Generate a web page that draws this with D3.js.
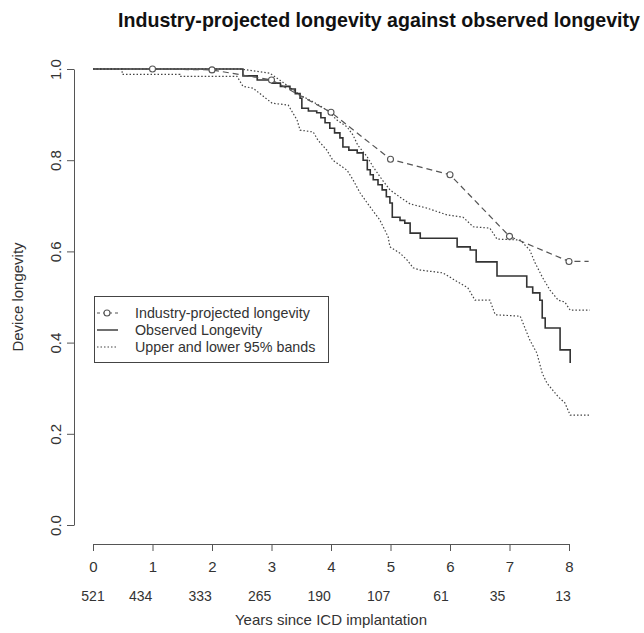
<!DOCTYPE html>
<html>
<head>
<meta charset="utf-8">
<script src="https://cdn.jsdelivr.net/npm/d3@7"></script>
<style>
  html, body { margin: 0; padding: 0; background: #fff; }
  svg { display: block; font-family: "Liberation Sans", Arial, Helvetica, sans-serif; }
</style>
</head>
<body>
<svg id="chart" width="644" height="633"></svg>
<script>
// ---------- data ----------
const years = [0, 1, 2, 3, 4, 5, 6, 7, 8];
const atRisk = [521, 434, 333, 265, 190, 107, 61, 35, 13];
const atRiskPos = [0, 0.8, 1.8, 2.8, 3.8, 4.8, 5.85, 6.8, 7.9];
const yTicks = [0, 0.2, 0.4, 0.6, 0.8, 1.0];

// industry-projected longevity (dashed, markers at whole years 1-8)
const industryT = [0, 1, 2, 3, 4, 5, 6, 7, 8, 8.33];
const industryV = [1.0, 1.0, 0.998, 0.976, 0.905, 0.802, 0.768, 0.633, 0.578, 0.578];
const markerYears = [1, 2, 3, 4, 5, 6, 7, 8];

// observed (Kaplan-Meier step function): step time, survival after step
const obsT = [0, 2.52, 2.76, 3.01, 3.15, 3.31, 3.40, 3.48, 3.51, 3.62,
              3.76, 3.83, 3.90, 3.98, 4.06, 4.15, 4.20, 4.30, 4.44, 4.54,
              4.61, 4.66, 4.71, 4.79, 4.86, 4.93, 4.99, 5.03, 5.16, 5.24,
              5.33, 5.50, 6.12, 6.34, 6.44, 6.79, 7.29, 7.39, 7.51, 7.55,
              7.60, 7.85, 8.02];
const obsV = [1.0, 0.985, 0.976, 0.969, 0.962, 0.956, 0.946, 0.936, 0.914, 0.908,
              0.904, 0.893, 0.882, 0.870, 0.860, 0.849, 0.829, 0.822, 0.816, 0.800,
              0.779, 0.768, 0.757, 0.746, 0.735, 0.720, 0.706, 0.675, 0.668, 0.662,
              0.640, 0.629, 0.610, 0.603, 0.577, 0.546, 0.522, 0.509, 0.493, 0.454,
              0.432, 0.384, 0.355];

// upper 95% band
const upperT = [0, 2.47, 2.97, 3.19, 3.48, 3.70, 3.93, 4.10, 4.27, 4.37, 4.45, 4.61,
                4.71, 4.86, 4.99, 5.16, 5.33, 5.61, 5.95, 6.22, 6.39, 6.67, 6.79,
                7.18, 7.34, 7.43, 7.55, 7.68, 7.82, 7.93, 8.02, 8.35];
const upperV = [1.0, 1.0, 0.991, 0.971, 0.943, 0.928, 0.910, 0.888, 0.873, 0.855, 0.833, 0.807,
                0.785, 0.757, 0.735, 0.719, 0.704, 0.695, 0.680, 0.675, 0.654, 0.651, 0.627,
                0.625, 0.603, 0.575, 0.544, 0.515, 0.493, 0.489, 0.471, 0.471];

// lower 95% band
const lowerT = [0, 0.49, 0.49, 1.46, 1.46, 2.42, 2.52, 2.69, 3.01, 3.28, 3.43, 3.48, 3.70,
                3.78, 3.93, 4.03, 4.27, 4.37, 4.49, 4.66, 4.82, 4.96, 4.99, 5.16, 5.28,
                5.38, 5.50, 5.88, 6.08, 6.30, 6.42, 6.67, 6.76, 7.18, 7.34, 7.46, 7.55,
                7.63, 7.82, 7.93, 8.02, 8.35];
const lowerV = [1.0, 1.0, 0.988, 0.988, 0.984, 0.984, 0.962, 0.958, 0.925, 0.921, 0.888, 0.866, 0.862,
                0.844, 0.822, 0.800, 0.778, 0.757, 0.728, 0.697, 0.669, 0.632, 0.610, 0.596, 0.581,
                0.564, 0.559, 0.553, 0.537, 0.520, 0.493, 0.493, 0.461, 0.458, 0.406, 0.377, 0.333,
                0.311, 0.281, 0.268, 0.241, 0.241];

const legendLabels = ["Industry-projected longevity", "Observed Longevity", "Upper and lower 95% bands"];

// ---------- layout ----------
const svg = d3.select("#chart");
const x = d3.scaleLinear().domain([0, 8]).range([93, 569]);
const y = d3.scaleLinear().domain([0, 1]).range([525, 69]);
const axisY = 544, axisX = 74;
const ink = "#333";
const fontSize = 15;

const zip = (a, b) => a.map((d, i) => [d, b[i]]);
const line = d3.line().x(d => x(d[0])).y(d => y(d[1]));
const stepLine = d3.line().x(d => x(d[0])).y(d => y(d[1])).curve(d3.curveStepAfter);

// title
const title = svg.append("text")
  .attr("x", 118).attr("y", 27)
  .attr("font-weight", "bold").attr("font-size", 17)
  .attr("fill", "#111")
  .text("Industry-projected longevity against observed longevity");
const tl = title.node().getComputedTextLength();
title.attr("font-size", 17 * 522 / tl);

// x axis
const gx = svg.append("g").attr("transform", `translate(0,${axisY})`)
  .call(d3.axisBottom(x).tickValues(years).tickSize(7).tickSizeOuter(0).tickFormat(d3.format("d")));
gx.select(".domain").attr("stroke", "#555");
gx.selectAll(".tick line").attr("stroke", "#555");
gx.selectAll(".tick text").attr("y", 17).attr("font-size", fontSize).attr("fill", ink)
  .attr("font-family", "Liberation Sans, Arial, sans-serif");

// y axis
const gy = svg.append("g").attr("transform", `translate(${axisX},0)`)
  .call(d3.axisLeft(y).tickValues(yTicks).tickSize(7).tickSizeOuter(0).tickFormat(d3.format(".1f")));
gy.select(".domain").attr("stroke", "#555");
gy.selectAll(".tick line").attr("stroke", "#555");
gy.selectAll(".tick text")
  .attr("x", null).attr("dy", null)
  .attr("text-anchor", "middle")
  .attr("transform", "translate(-13,0) rotate(-90)")
  .attr("font-size", fontSize).attr("fill", ink)
  .attr("font-family", "Liberation Sans, Arial, sans-serif");

// numbers at risk
svg.append("g").selectAll("text").data(atRisk).join("text")
  .attr("x", (d, i) => x(atRiskPos[i]))
  .attr("y", 601)
  .attr("text-anchor", "middle")
  .attr("font-size", 14).attr("fill", ink)
  .text(d => d);

// axis titles
svg.append("text")
  .attr("x", 331).attr("y", 625).attr("text-anchor", "middle")
  .attr("font-size", fontSize).attr("fill", ink)
  .text("Years since ICD implantation");
svg.append("text")
  .attr("transform", `translate(23,297) rotate(-90)`)
  .attr("text-anchor", "middle")
  .attr("font-size", fontSize).attr("fill", ink)
  .text("Device longevity");

// ---------- series ----------
const dotted = "1.5,2";
const dashed = "6,4";

svg.append("path").datum(zip(lowerT, lowerV)).attr("d", line)
  .attr("fill", "none").attr("stroke", "#444").attr("stroke-width", 1.2).attr("stroke-dasharray", dotted);
svg.append("path").datum(zip(upperT, upperV)).attr("d", line)
  .attr("fill", "none").attr("stroke", "#444").attr("stroke-width", 1.2).attr("stroke-dasharray", dotted);
svg.append("path").datum(zip(obsT, obsV)).attr("d", stepLine)
  .attr("fill", "none").attr("stroke", "#333").attr("stroke-width", 1.6);
svg.append("path").datum(zip(industryT, industryV)).attr("d", line)
  .attr("fill", "none").attr("stroke", "#555").attr("stroke-width", 1.2).attr("stroke-dasharray", dashed);
svg.append("g").selectAll("circle")
  .data(zip(industryT, industryV).filter(d => markerYears.includes(d[0])))
  .join("circle")
  .attr("cx", d => x(d[0])).attr("cy", d => y(d[1])).attr("r", 3)
  .attr("fill", "#fff").attr("stroke", "#555").attr("stroke-width", 1.1);

// ---------- legend ----------
const lg = svg.append("g");
lg.append("rect").attr("x", 94.5).attr("y", 296.5).attr("width", 234).attr("height", 66)
  .attr("fill", "#fff").attr("stroke", "#444").attr("stroke-width", 1);
const rowY = [313, 330, 347];
lg.append("line").attr("x1", 97).attr("x2", 118).attr("y1", rowY[0]).attr("y2", rowY[0])
  .attr("stroke", "#555").attr("stroke-width", 1.2).attr("stroke-dasharray", "3,3");
lg.append("circle").attr("cx", 107).attr("cy", rowY[0]).attr("r", 3)
  .attr("fill", "#fff").attr("stroke", "#555").attr("stroke-width", 1.1);
lg.append("line").attr("x1", 97).attr("x2", 118).attr("y1", rowY[1]).attr("y2", rowY[1])
  .attr("stroke", "#333").attr("stroke-width", 1.4);
lg.append("line").attr("x1", 97).attr("x2", 118).attr("y1", rowY[2]).attr("y2", rowY[2])
  .attr("stroke", "#444").attr("stroke-width", 1.2).attr("stroke-dasharray", dotted);
lg.selectAll("text.lab").data(legendLabels).join("text").attr("class", "lab")
  .attr("x", 135).attr("y", (d, i) => rowY[i] + 5)
  .attr("font-size", 14.3).attr("fill", ink)
  .text(d => d);
</script>
</body>
</html>
